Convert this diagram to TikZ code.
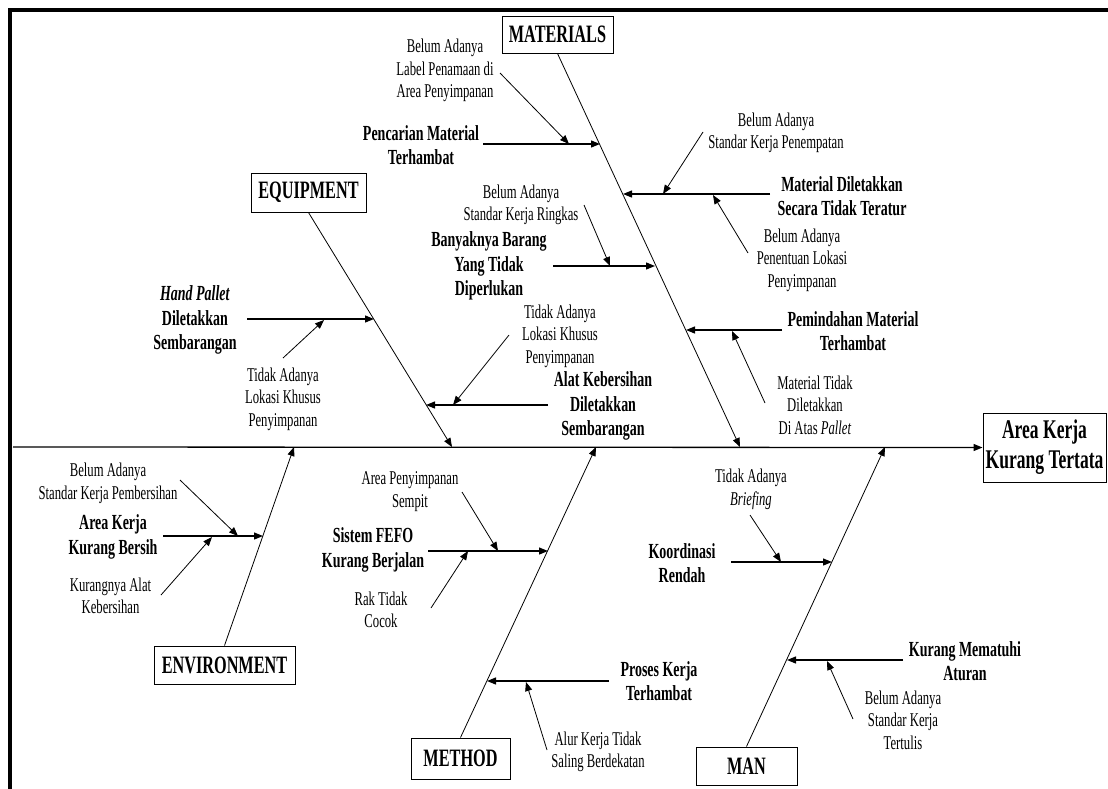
\documentclass[tikz,border=0pt]{standalone}
\usepackage{fontspec}
\setmainfont{Liberation Serif}[FakeStretch=0.65]
\usetikzlibrary{arrows.meta}
\begin{document}
\begin{tikzpicture}[x=1pt,y=-1pt]

\tikzset{line/.style={draw,line width=0.8pt}}
\tikzset{arrow/.style={line,-{Triangle[length=9pt,width=7pt]}}}
\tikzset{branch/.style={arrow,line width=1.3pt}}
\tikzset{box/.style={draw,line width=1pt,inner sep=0pt,font=\bfseries\fontsize{25}{28}\selectfont}}
\tikzset{cause/.style={align=center,font=\bfseries\fontsize{21.5}{24.5}\selectfont}}
\tikzset{why/.style={align=center,font=\fontsize{19.5}{22.5}\selectfont}}

\useasboundingbox (0,0) rectangle (1108,788);
\fill[white] (0,0) rectangle (1108,788);
\draw[line width=3.5pt] (10,790) -- (10,10) -- (1110,10);

\node[box,minimum width=123pt,minimum height=69pt,font=\bfseries\fontsize{27}{30}\selectfont,align=center] (eff) at (1044.5,447.5) {Area Kerja\\Kurang Tertata};
\node[box,minimum width=111pt,minimum height=37pt] (mat) at (557.5,34.5) {MATERIALS};
\node[box,minimum width=115pt,minimum height=39pt] (equ) at (308.5,192.5) {EQUIPMENT};
\node[box,minimum width=141pt,minimum height=38pt] (env) at (224.5,665) {ENVIRONMENT};
\node[box,minimum width=99pt,minimum height=41pt] (met) at (460.5,758.5) {METHOD};
\node[box,minimum width=101pt,minimum height=38pt] (man) at (746.5,766) {MAN};

\coordinate (s0) at (13,447);
\coordinate (mat0) at (740,447);
\coordinate (equ0) at (452,447);
\coordinate (env0) at (294,447);
\coordinate (met0) at (596,447);
\coordinate (man0) at (885,447);

\path[branch] (s0) to (eff.west);
\path[arrow] (mat.south) to (mat0);
\path[arrow] (equ.south) to (equ0);
\path[arrow] (env.north) to (env0);
\path[arrow] (met.north) to (met0);
\path[arrow] (man.north) to (man0);

\node[cause] (mc1) at (421,145) {Pencarian Material\\Terhambat};
\node[cause] (mc2) at (842,196) {Material Diletakkan\\Secara Tidak Teratur};
\node[cause] (mc3) at (489,266) {Banyaknya Barang\\Yang Tidak\\Diperlukan};
\node[cause] (mc4) at (853,331) {Pemindahan Material\\Terhambat};
\node[why] (mw1) at (445,70.5) {Belum Adanya\\Label Penamaan di\\Area Penyimpanan};
\node[why] (mw2) at (776,133) {Belum Adanya\\Standar Kerja Penempatan};
\node[why] (mw3) at (802,260) {Belum Adanya\\Penentuan Lokasi\\Penyimpanan};
\node[why] (mw4) at (521,205) {Belum Adanya\\Standar Kerja Ringkas};
\node[why] (mw5) at (815,405) {Material Tidak\\Diletakkan\\Di Atas \textit{Pallet}};

\coordinate (m1) at (600,144);
\coordinate (m2) at (623,194);
\coordinate (m3) at (655,266);
\coordinate (m4) at (686,330);
\coordinate (m1a) at (483,144);
\coordinate (m2a) at (770,194);
\coordinate (m3a) at (553,266);
\coordinate (m4a) at (782,330);
\path[branch] (m1a) to (m1);
\path[branch] (m2a) to (m2);
\path[branch] (m3a) to (m3);
\path[branch] (m4a) to (m4);

\coordinate (m1b) at (500,73);
\coordinate (m1c) at (569,144);
\coordinate (m2b) at (703,132);
\coordinate (m2c) at (663,194);
\coordinate (m2d) at (748,253);
\coordinate (m2e) at (713,195);
\coordinate (m3b) at (584,205);
\coordinate (m3c) at (610,266);
\coordinate (m4b) at (765,403);
\coordinate (m4c) at (732,331);
\path[arrow] (m1b) to (m1c);
\path[arrow] (m2b) to (m2c);
\path[arrow] (m2d) to (m2e);
\path[arrow] (m3b) to (m3c);
\path[arrow] (m4b) to (m4c);

\node[cause] (ec1) at (195,320) {\textit{Hand Pallet}\\Diletakkan\\Sembarangan};
\node[cause] (ec2) at (603,406) {Alat Kebersihan\\Diletakkan\\Sembarangan};
\node[why] (ew1) at (283,399) {Tidak Adanya\\Lokasi Khusus\\Penyimpanan};
\node[why] (ew2) at (560,336) {Tidak Adanya\\Lokasi Khusus\\Penyimpanan};

\coordinate (e1) at (374,319);
\coordinate (e2) at (426,405);
\coordinate (e1a) at (247,319);
\coordinate (e2a) at (548,405);
\path[branch] (e1a) to (e1);
\path[branch] (e2a) to (e2);
\coordinate (e1b) at (283,358);
\coordinate (e1c) at (324,320);
\coordinate (e2b) at (509,335);
\coordinate (e2c) at (453,405);
\path[arrow] (e1b) to (e1c);
\path[arrow] (e2b) to (e2c);

\node[cause] (vc1) at (113,537) {Area Kerja\\Kurang Bersih};
\node[why] (vw1) at (108,483.5) {Belum Adanya\\Standar Kerja Pembersihan};
\node[why] (vw2) at (110.5,596) {Kurangnya Alat\\Kebersihan};

\coordinate (v1) at (263,536);
\coordinate (v1a) at (163,536);
\path[branch] (v1a) to (v1);
\coordinate (v1b) at (180,480);
\coordinate (v1c) at (238,536);
\coordinate (v1d) at (161,595);
\coordinate (v1e) at (212,537);
\path[arrow] (v1b) to (v1c);
\path[arrow] (v1d) to (v1e);

\node[cause] (tc1) at (373,550) {Sistem FEFO\\Kurang Berjalan};
\node[cause] (tc2) at (659,681) {Proses Kerja\\Terhambat};
\node[why] (tw1) at (410,491.5) {Area Penyimpanan\\Sempit};
\node[why] (tw2) at (381,610) {Rak Tidak\\Cocok};
\node[why] (tw3) at (598,752) {Alur Kerja Tidak\\Saling Berdekatan};

\coordinate (t1) at (548,551);
\coordinate (t2) at (487,681);
\coordinate (t1a) at (428,551);
\coordinate (t2a) at (609,681);
\path[branch] (t1a) to (t1);
\path[branch] (t2a) to (t2);
\coordinate (t1b) at (462,492);
\coordinate (t1c) at (498,551);
\coordinate (t1d) at (431,608);
\coordinate (t1e) at (468,551);
\coordinate (t2b) at (547,750);
\coordinate (t2c) at (526,682);
\path[arrow] (t1b) to (t1c);
\path[arrow] (t1d) to (t1e);
\path[arrow] (t2b) to (t2c);

\node[cause] (nc1) at (682,563) {Koordinasi\\Rendah};
\node[cause] (nc2) at (965,661) {Kurang Mematuhi\\Aturan};
\node[why] (nw1) at (751,489.5) {Tidak Adanya\\\textit{Briefing}};
\node[why] (nw2) at (903,720) {Belum Adanya\\Standar Kerja\\Tertulis};

\coordinate (n1) at (832,562);
\coordinate (n2) at (787,660);
\coordinate (n1a) at (731,562);
\coordinate (n2a) at (903,660);
\path[branch] (n1a) to (n1);
\path[branch] (n2a) to (n2);
\coordinate (n1b) at (750,515);
\coordinate (n1c) at (781,562);
\coordinate (n2b) at (853,719);
\coordinate (n2c) at (827,661);
\path[arrow] (n1b) to (n1c);
\path[arrow] (n2b) to (n2c);

\end{tikzpicture}
\end{document}
